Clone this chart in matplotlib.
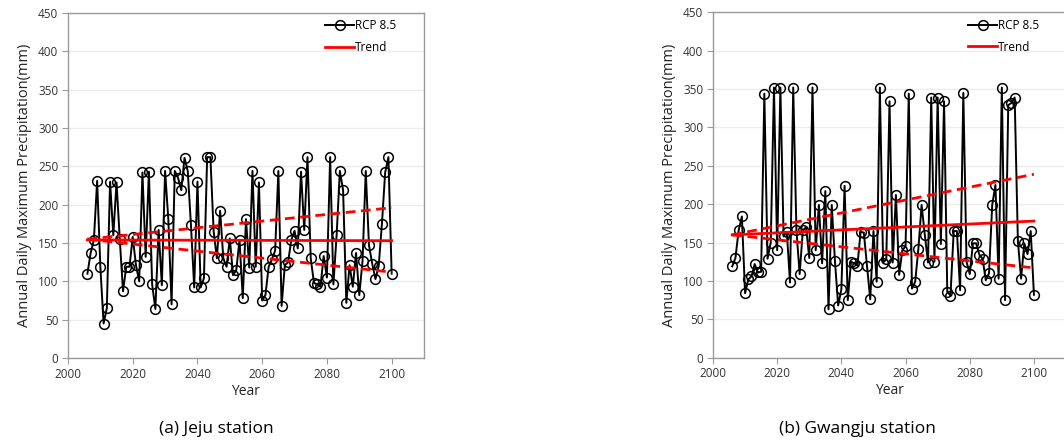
import numpy as np
import matplotlib
matplotlib.use("Agg")
import matplotlib.pyplot as plt

plt.rcParams['font.family'] = ['Open Sans', 'DejaVu Sans']

# data
years = np.arange(2006, 2101)

jeju = [110, 137, 154, 231, 119, 45, 65, 230, 160, 229,
        155, 87, 119, 119, 158, 121, 100, 242, 132, 243,
        96, 64, 167, 95, 244, 181, 70, 244, 235, 219,
        261, 244, 173, 92, 230, 92, 104, 262, 262, 165,
        130, 192, 130, 119, 156, 108, 115, 154, 78, 181,
        118, 244, 119, 229, 75, 82, 119, 129, 140, 244,
        68, 121, 125, 154, 166, 143, 243, 167, 262, 130,
        98, 96, 93, 133, 105, 262, 96, 160, 244, 219,
        72, 121, 93, 137, 82, 126, 244, 147, 123, 103,
        120, 175, 242, 262, 110]

gwangju = [119, 130, 166, 184, 84, 102, 106, 122, 111, 112,
           344, 129, 150, 352, 140, 352, 158, 164, 98, 352,
           166, 109, 166, 170, 130, 352, 140, 199, 123, 217,
           63, 199, 126, 68, 89, 224, 75, 125, 123, 120,
           164, 163, 119, 76, 165, 99, 352, 124, 128, 334,
           124, 212, 108, 140, 145, 344, 90, 99, 142, 199,
           160, 124, 339, 125, 339, 148, 334, 86, 81, 165,
           165, 88, 345, 125, 109, 149, 149, 134, 129, 101,
           110, 199, 225, 103, 352, 75, 329, 332, 339, 152,
           103, 149, 135, 165, 82]

trend_years = [2006, 2100]
jeju_trend = [154, 153]
jeju_upper = [155, 196]
jeju_lower = [155, 112]
gwangju_trend = [160, 178]
gwangju_upper = [160, 239]
gwangju_lower = [160, 117]

captions = ["(a) Jeju station", "(b) Gwangju station"]

fig = plt.figure(figsize=(10.64, 4.46), dpi=100)
ax1 = fig.add_axes([0.0639, 0.1973, 0.3346, 0.7735])
ax2 = fig.add_axes([0.6701, 0.198, 0.3318, 0.7744])

series = [(ax1, jeju, jeju_trend, jeju_upper, jeju_lower),
          (ax2, gwangju, gwangju_trend, gwangju_upper, gwangju_lower)]

for ax, vals, tr, up, lo in series:
    ax.plot(years, vals, color='black', lw=1.4, marker='o', ms=7,
            mfc='none', mec='black', mew=1.1, label='RCP 8.5', zorder=3)
    ax.plot(trend_years, tr, color='red', lw=2, label='Trend', zorder=4)
    ax.plot(trend_years, up, color='red', lw=2, ls=(0, (3.5, 2)), zorder=4)
    ax.plot(trend_years, lo, color='red', lw=2, ls=(0, (3.5, 2)), zorder=4)

    ax.set_xlim(2000, 2110)
    ax.set_ylim(0, 450)
    ax.set_xticks(np.arange(2000, 2101, 20))
    ax.set_yticks(np.arange(0, 451, 50))
    ax.yaxis.grid(True, color='#ececec', lw=1)
    ax.set_axisbelow(True)
    for s in ax.spines.values():
        s.set_color('#9a9a9a')
        s.set_linewidth(1.0)
    ax.tick_params(direction='out', length=4, color='#9a9a9a',
                   labelsize=8.5, labelcolor='#333333', pad=3)
    ax.set_xlabel('Year', fontsize=10, color='#222222', labelpad=2)
    ax.set_ylabel('Annual Daily Maximum Precipitation(mm)', fontsize=10.5,
                  color='#222222', labelpad=4)
    leg = ax.legend(loc='upper left', bbox_to_anchor=(0.71, 0.995),
                    frameon=False, fontsize=8.5, handlelength=2.4,
                    handletextpad=0.1, labelspacing=0.75, borderaxespad=0)

fig.text(0.203, 0.037, captions[0], fontsize=12.5, ha='center', va='center')
fig.text(0.806, 0.037, captions[1], fontsize=12.5, ha='center', va='center')

fig.savefig('out.png', dpi=100)
